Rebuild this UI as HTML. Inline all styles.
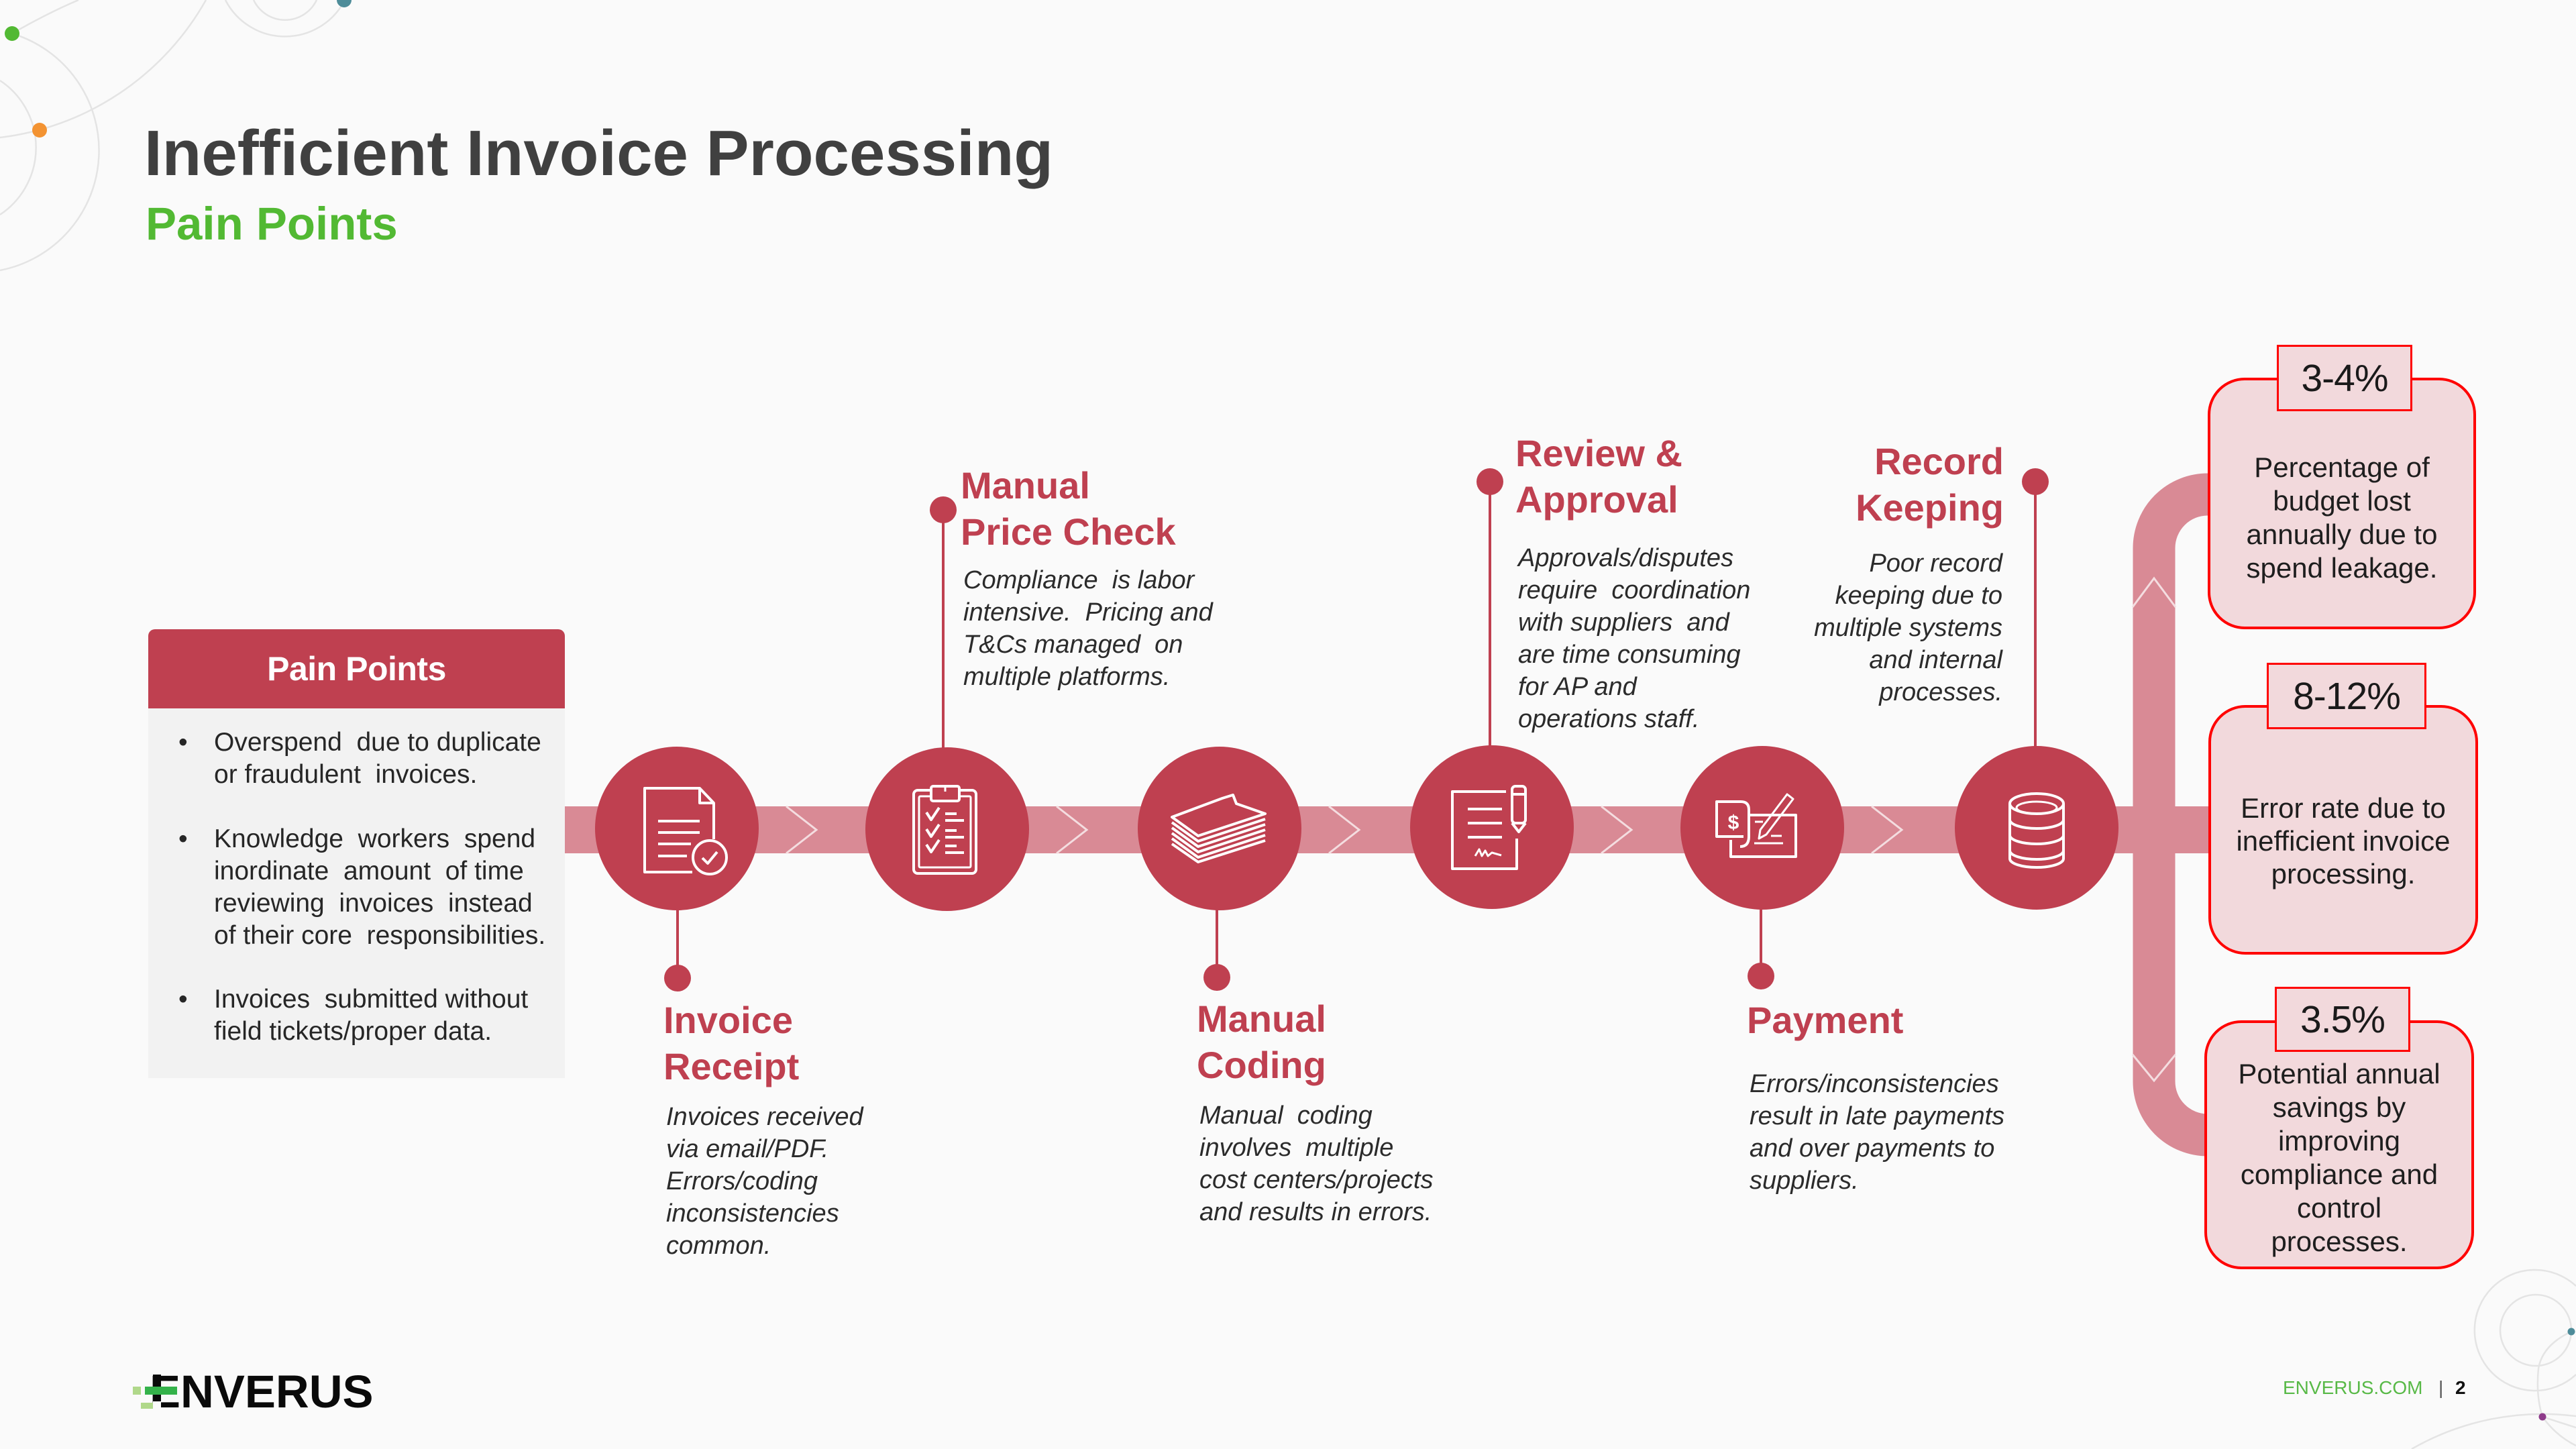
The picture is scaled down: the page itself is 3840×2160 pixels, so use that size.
<!DOCTYPE html>
<html><head><meta charset="utf-8">
<style>
html,body{margin:0;padding:0;}
html{overflow:hidden;}
body{width:3840px;height:2160px;position:relative;overflow:hidden;background:#fafafa;font-family:"Liberation Sans",Arial,sans-serif;}
.t{position:absolute;white-space:nowrap;font-family:"Liberation Sans",Arial,sans-serif;}
.lbl{font-size:56px;line-height:69px;font-weight:bold;color:#bf4050;}
.desc{font-size:38px;line-height:48px;font-style:italic;color:#2b2b2b;}
.box{position:absolute;box-sizing:border-box;border:4px solid #ff0000;border-radius:55px;background:#f2d9dc;}
.pct{position:absolute;box-sizing:border-box;border:3px solid #ff0000;background:#f2d9dc;display:flex;align-items:center;justify-content:center;font-size:57px;color:#1a1a1a;letter-spacing:-1px;font-family:"Liberation Sans",Arial,sans-serif;}
.btxt{position:absolute;text-align:center;font-size:42px;color:#1e1e1e;white-space:nowrap;}
.bul{font-size:39px;line-height:47.9px;color:#262626;}
</style></head>
<body>

<svg width="3840" height="2160" style="position:absolute;left:0;top:0;overflow:hidden" xmlns="http://www.w3.org/2000/svg">
  <!-- decorative top-left -->
  <g fill="none" stroke="#e4e4e4" stroke-width="2.5">
    <path d="M18,50 A182,182 0 0 1 0,403"/>
    <path d="M307,0 A408,408 0 0 1 0,205"/>
    <path d="M0,120 A120,120 0 0 1 0,320"/>
    <path d="M18,50 Q70,20 117,0"/>
    <path d="M336,0 A100,100 0 0 0 514,0"/>
    <path d="M378,0 A52,52 0 0 0 472,0"/>
  </g>
  <circle cx="18" cy="50" r="11" fill="#52b933"/>
  <circle cx="59" cy="194" r="11" fill="#f39332"/>
  <path d="M502,0 A11,11 0 0 0 524,0 Z" fill="#4e8c99"/>

  <!-- decorative bottom-right -->
  <g fill="none" stroke="#e4e4e4" stroke-width="2.5">
    <path d="M3840,1917 A90,90 0 1 0 3840,2049"/>
    <circle cx="3780" cy="1983" r="53"/>
    <path d="M3833,1985 Q3790,2005 3784,2040 Q3780,2080 3790,2112"/>
    <path d="M3595,2160 A392,392 0 0 1 3840,2111"/>
    <path d="M3790,2112 L3840,2128"/>
    <path d="M3790,2112 Q3810,2140 3840,2155"/>
  </g>
  <circle cx="3833" cy="1985" r="5.5" fill="#4e8c99"/>
  <circle cx="3790" cy="2112" r="5.5" fill="#8e3a8a"/>

  <!-- main bar -->
  <rect x="842" y="1202" width="2452" height="70" fill="#d98a95"/>
  <!-- pipe -->
  <path d="M3296,737 H3291 A80,80 0 0 0 3211,817 V1612 A80,80 0 0 0 3291,1692 H3296" fill="none" stroke="#d98a95" stroke-width="63"/>
  <!-- chevrons -->
  <g fill="none" stroke="#f4dde0" stroke-width="3">
    <polyline points="1172,1202 1217,1237 1172,1272"/>
    <polyline points="1575,1202 1620,1237 1575,1272"/>
    <polyline points="1981,1202 2026,1237 1981,1272"/>
    <polyline points="2387,1202 2432,1237 2387,1272"/>
    <polyline points="2790,1202 2835,1237 2790,1272"/>
    <polyline points="3179,905 3211,862 3243,905"/>
    <polyline points="3179,1572 3211,1611 3243,1572"/>
  </g>

  <!-- stems -->
  <g stroke="#bf4050" stroke-width="4">
    <line x1="1010" y1="1350" x2="1010" y2="1458"/>
    <line x1="1406" y1="760" x2="1406" y2="1120"/>
    <line x1="1814" y1="1350" x2="1814" y2="1457"/>
    <line x1="2221" y1="718" x2="2221" y2="1118"/>
    <line x1="2625" y1="1350" x2="2625" y2="1455"/>
    <line x1="3034" y1="718" x2="3034" y2="1118"/>
  </g>
  <g fill="#bf4050">
    <circle cx="1010" cy="1458" r="20"/>
    <circle cx="1406" cy="760" r="20"/>
    <circle cx="1814" cy="1457" r="20"/>
    <circle cx="2221" cy="718" r="20"/>
    <circle cx="2625" cy="1455" r="20"/>
    <circle cx="3034" cy="718" r="20"/>
    <!-- big circles -->
    <circle cx="1009" cy="1235" r="122"/>
    <circle cx="1412" cy="1236" r="122"/>
    <circle cx="1818" cy="1235" r="122"/>
    <circle cx="2224" cy="1233" r="122"/>
    <circle cx="2627" cy="1234" r="122"/>
    <circle cx="3036" cy="1234" r="122"/>
  </g>

  <!-- icons -->
  <g fill="none" stroke="#ffffff" stroke-width="4" stroke-linejoin="round">
    <!-- icon 1: document with check -->
    <path d="M1032,1300 H961 V1175 H1043 L1064,1197 V1251"/>
    <path d="M1043,1175 V1197 H1064"/>
    <path d="M981,1224 H1043 M981,1241 H1043 M981,1258 H1030 M981,1276 H1024"/>
    <circle cx="1058" cy="1278" r="25"/>
    <path d="M1047,1279 L1055,1287 L1069,1270"/>

    <!-- icon 2: clipboard -->
    <rect x="1362" y="1178" width="93" height="124" rx="6"/>
    <rect x="1370" y="1187" width="77" height="106" rx="2" stroke-width="3"/>
    <rect x="1388" y="1172" width="42" height="22" rx="3" fill="#bf4050"/>
    <path d="M1409,1172 V1180" stroke-width="3"/>
    <path d="M1381,1211 L1388,1222 L1400,1204"/>
    <path d="M1381,1236 L1388,1247 L1400,1229"/>
    <path d="M1381,1259 L1388,1270 L1400,1252"/>
    <path d="M1409,1213 H1426 M1409,1223 H1437 M1409,1238 H1426 M1409,1248 H1437 M1409,1261 H1426 M1409,1271 H1437"/>

    <!-- icon 3: stack of papers -->
    <path d="M1747,1218 L1822,1190 L1838,1185 L1843,1198 L1886,1213 L1786,1246 Z"/>
    <path d="M1747,1226 L1786,1254 L1886,1221"/>
    <path d="M1747,1234 L1786,1262 L1886,1229"/>
    <path d="M1747,1242 L1786,1270 L1886,1237"/>
    <path d="M1747,1250 L1786,1278 L1886,1245"/>
    <path d="M1747,1258 L1786,1285 L1886,1253"/>

    <!-- icon 4: document with pencil -->
    <path d="M2245,1180 H2165 V1295 H2261 V1250"/>
    <path d="M2188,1206 H2239 M2188,1227 H2239 M2188,1248 H2239"/>
    <path d="M2199,1276 L2205,1266 L2209,1276 L2214,1268 L2218,1276 L2224,1271 L2238,1275" stroke-width="3"/>
    <rect x="2254" y="1172" width="20" height="55" rx="5"/>
    <path d="M2254,1184 H2274"/>
    <path d="M2254,1227 L2264,1240 L2274,1227"/>

    <!-- icon 5: bill + check + pencil -->
    <path d="M2599,1247 H2559 V1195 H2595 Q2607,1195 2607,1207 V1247 Q2607,1262 2594,1262"/>
    <path d="M2606,1215 H2677 V1277 H2580 V1252"/>
    <path d="M2615,1257 H2658 M2640,1246 H2656" stroke-width="3"/>
    <path d="M2622,1250 L2624,1237 L2664,1184 L2673,1191 L2633,1244 Z" stroke-width="3"/>
    <path d="M2616,1225 H2628" stroke-width="3"/>

    <!-- icon 6: database -->
    <ellipse cx="3036" cy="1198" rx="40" ry="15"/>
    <ellipse cx="3036" cy="1204" rx="30" ry="9" stroke-width="3"/>
    <path d="M2996,1198 V1280 A40,13 0 0 0 3076,1280 V1198"/>
    <path d="M2996,1222 A40,13 0 0 0 3076,1222"/>
    <path d="M2996,1245 A40,13 0 0 0 3076,1245"/>
    <path d="M2996,1268 A40,13 0 0 0 3076,1268"/>
  </g>
  <text x="2584" y="1236" fill="#ffffff" font-family="Liberation Sans, Arial, sans-serif" font-size="30" font-weight="bold" text-anchor="middle">$</text>
</svg>

<!-- Title -->
<div class="t" style="left:215px;top:179px;font-size:96px;line-height:100px;font-weight:bold;color:#404040;">Inefficient Invoice Processing</div>
<div class="t" style="left:217px;top:294px;font-size:69px;line-height:80px;font-weight:bold;color:#52b933;">Pain Points</div>

<!-- Pain points box -->
<div style="position:absolute;left:221px;top:938px;width:621px;height:118px;background:#bf4050;border-radius:10px 10px 0 0;display:flex;align-items:center;justify-content:center;">
  <span style="font-family:'Liberation Sans',Arial,sans-serif;font-weight:bold;font-size:50px;color:#ffffff;letter-spacing:-0.5px;">Pain Points</span>
</div>
<div style="position:absolute;left:221px;top:1056px;width:621px;height:551px;background:#f2f2f2;"></div>

<div class="t bul" style="left:266px;top:1083px;">•</div>
<div class="t bul" style="left:319px;top:1083px;">Overspend&nbsp; due to duplicate<br>or fraudulent&nbsp; invoices.</div>
<div class="t bul" style="left:266px;top:1227px;">•</div>
<div class="t bul" style="left:319px;top:1227px;">Knowledge&nbsp; workers&nbsp; spend<br>inordinate&nbsp; amount&nbsp; of time<br>reviewing&nbsp; invoices&nbsp; instead<br>of their core&nbsp; responsibilities.</div>
<div class="t bul" style="left:266px;top:1466px;">•</div>
<div class="t bul" style="left:319px;top:1466px;">Invoices&nbsp; submitted without<br>field tickets/proper data.</div>

<!-- Labels -->
<div class="t lbl" style="left:1432px;top:689px;">Manual<br>Price Check</div>
<div class="t desc" style="left:1436px;top:841px;">Compliance&nbsp; is labor<br>intensive.&nbsp; Pricing and<br>T&amp;Cs managed&nbsp; on<br>multiple platforms.</div>

<div class="t lbl" style="left:2259px;top:641px;">Review &amp;<br>Approval</div>
<div class="t desc" style="left:2263px;top:808px;">Approvals/disputes<br>require&nbsp; coordination<br>with suppliers&nbsp; and<br>are time consuming<br>for AP and<br>operations staff.</div>

<div class="t lbl" style="right:853px;top:653px;text-align:right;">Record<br>Keeping</div>
<div class="t desc" style="right:855px;top:816px;text-align:right;">Poor record<br>keeping due to<br>multiple systems<br>and internal<br>processes.</div>

<div class="t lbl" style="left:989px;top:1486px;">Invoice<br>Receipt</div>
<div class="t desc" style="left:993px;top:1641px;">Invoices received<br>via email/PDF.<br>Errors/coding<br>inconsistencies<br>common.</div>

<div class="t lbl" style="left:1784px;top:1484px;">Manual<br>Coding</div>
<div class="t desc" style="left:1788px;top:1639px;">Manual&nbsp; coding<br>involves&nbsp; multiple<br>cost centers/projects<br>and results in errors.</div>

<div class="t lbl" style="left:2604px;top:1486px;">Payment</div>
<div class="t desc" style="left:2608px;top:1592px;">Errors/inconsistencies<br>result in late payments<br>and over payments to<br>suppliers.</div>

<!-- Right boxes -->
<div class="box" style="left:3291px;top:563px;width:400px;height:375px;"></div>
<div class="box" style="left:3292px;top:1051px;width:402px;height:372px;"></div>
<div class="box" style="left:3286px;top:1521px;width:402px;height:371px;"></div>

<div class="pct" style="left:3394px;top:514px;width:202px;height:99px;">3-4%</div>
<div class="pct" style="left:3379px;top:988px;width:238px;height:99px;">8-12%</div>
<div class="pct" style="left:3391px;top:1471px;width:202px;height:97px;">3.5%</div>

<div class="btxt" style="left:3291px;width:400px;top:672px;line-height:50px;">Percentage of<br>budget lost<br>annually due to<br>spend leakage.</div>
<div class="btxt" style="left:3292px;width:402px;top:1180px;line-height:49px;">Error rate due to<br>inefficient invoice<br>processing.</div>
<div class="btxt" style="left:3286px;width:402px;top:1576px;line-height:50px;">Potential annual<br>savings by<br>improving<br>compliance and<br>control<br>processes.</div>

<!-- Footer logo -->
<div class="t" style="left:223px;top:2040px;font-size:69px;line-height:70px;font-weight:bold;color:#0a0a0a;">ENVERUS</div>
<svg width="3840" height="2160" style="position:absolute;left:0;top:0;pointer-events:none;overflow:hidden" xmlns="http://www.w3.org/2000/svg">
  <rect x="228" y="2063" width="40" height="19" fill="#fafafa"/>
  <rect x="228" y="2049" width="12" height="41" fill="#0a0a0a"/>
  <rect x="216" y="2067" width="48" height="12" fill="#34b24a"/>
  <rect x="198" y="2067" width="12" height="12" fill="#b0d88a"/>
  <rect x="228" y="2089" width="12" height="11" fill="#fafafa"/>
  <rect x="210" y="2091" width="18" height="9" fill="#b0d88a"/>
</svg>

<div class="t" style="left:3403px;top:2054px;font-size:28px;line-height:30px;color:#58b947;">ENVERUS.COM</div>
<div class="t" style="left:3635px;top:2054px;font-size:28px;line-height:30px;color:#555;">|</div>
<div class="t" style="left:3660px;top:2054px;font-size:28px;line-height:30px;font-weight:bold;color:#111;">2</div>

</body></html>
